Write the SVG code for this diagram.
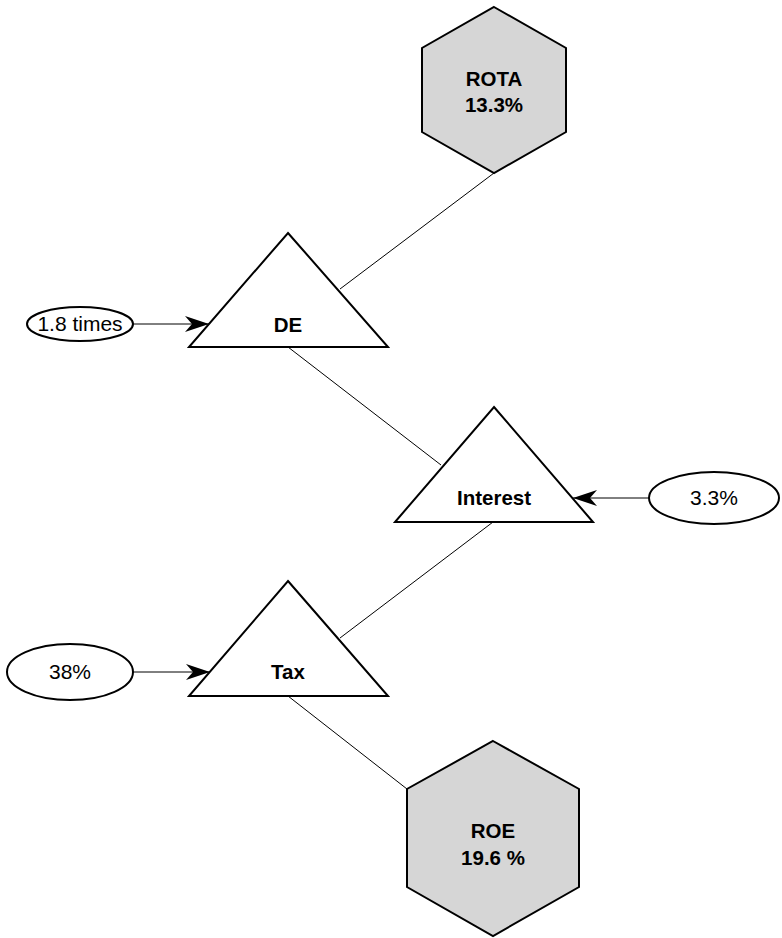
<svg xmlns="http://www.w3.org/2000/svg" width="782" height="938" viewBox="0 0 782 938">
<defs>
<style>
.hex{fill:#d6d6d6;stroke:#000;stroke-width:2;stroke-linejoin:miter}
.tri{fill:#fff;stroke:#000;stroke-width:2;stroke-linejoin:miter}
.ell{fill:#fff;stroke:#000;stroke-width:2}
.lbl{font-family:"Liberation Sans",Arial,Helvetica,sans-serif;font-size:20.5px;font-weight:bold;text-anchor:middle;fill:#000}
.val{font-family:"Liberation Sans",Arial,Helvetica,sans-serif;font-size:21px;text-anchor:middle;fill:#000}
.con{stroke:#000;stroke-width:1;fill:none}
</style>
<marker id="arr" viewBox="0 0 24 16" refX="24" refY="8" markerWidth="24" markerHeight="16" markerUnits="userSpaceOnUse" orient="auto">
<path d="M0,0 L24,8 L0,16 L7,8 Z" fill="#000"/>
</marker>
</defs>
<rect width="782" height="938" fill="#fff"/>
<g id="connectors">
<line class="con" x1="494" y1="173" x2="340" y2="289"/>
<line class="con" x1="288" y1="347" x2="441" y2="465"/>
<line class="con" x1="493" y1="522" x2="340" y2="638"/>
<line class="con" x1="288" y1="696" x2="407" y2="789"/>
<line class="con" x1="133" y1="324" x2="209" y2="324" marker-end="url(#arr)"/>
<line class="con" x1="649" y1="498" x2="573" y2="498" marker-end="url(#arr)"/>
<line class="con" x1="133" y1="672" x2="210" y2="672" marker-end="url(#arr)"/>
</g>
<g id="rota">
<polygon class="hex" points="494,7 566,48 566,132 494,173 422,132 422,48"/>
<text class="lbl" x="494" y="86">ROTA</text>
<text class="lbl" x="494" y="112">13.3%</text>
</g>
<g id="de">
<polygon class="tri" points="288,233 388,347 189,347"/>
<text class="lbl" x="288" y="332">DE</text>
</g>
<g id="interest">
<polygon class="tri" points="494,407 593,522 395,522"/>
<text class="lbl" x="494" y="505">Interest</text>
</g>
<g id="tax">
<polygon class="tri" points="288,581 388,696 189,696"/>
<text class="lbl" x="288" y="679">Tax</text>
</g>
<g id="roe">
<polygon class="hex" points="493,741 579,789 579,887 493,936 407,887 407,789"/>
<text class="lbl" x="493" y="838">ROE</text>
<text class="lbl" x="493" y="865">19.6 %</text>
</g>
<g id="times">
<ellipse class="ell" cx="80" cy="324" rx="53" ry="17"/>
<text class="val" x="80" y="331">1.8 times</text>
</g>
<g id="rate">
<ellipse class="ell" cx="714" cy="498" rx="65" ry="26"/>
<text class="val" x="714" y="505">3.3%</text>
</g>
<g id="taxrate">
<ellipse class="ell" cx="70" cy="672" rx="63" ry="28"/>
<text class="val" x="70" y="679">38%</text>
</g>
</svg>
